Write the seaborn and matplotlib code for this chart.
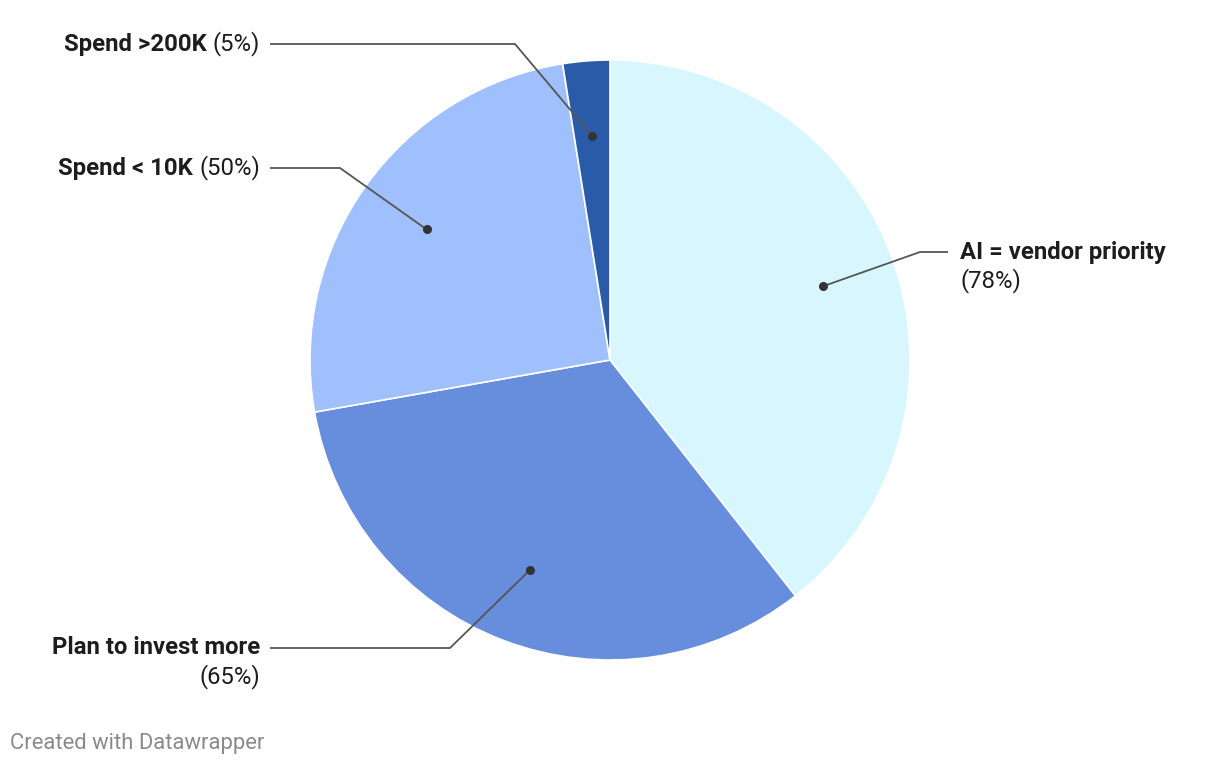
import numpy as np
import matplotlib
matplotlib.use("Agg")
from matplotlib import pyplot as plt
import seaborn as sns

# data (clockwise from 12 o'clock)
labels = ["AI = vendor priority", "Plan to invest more", "Spend < 10K", "Spend >200K"]
values = [78, 65, 50, 5]
colors = ["#d8f6fe", "#678ddd", "#9fc0fd", "#2a5ba8"]

sns.set_theme(style="white")
plt.rcParams["font.family"] = ["Roboto", "DejaVu Sans"]

W, H = 1220, 766
fig = plt.figure(figsize=(W / 100, H / 100), dpi=100)
ax = fig.add_axes([0, 0, 1, 1])

cx, cy, r = 610, H - 360, 300
ax.pie(values, colors=colors, startangle=90, counterclock=False,
       center=(cx, cy), radius=r, frame=True,
       wedgeprops=dict(edgecolor="white", linewidth=1.2))
ax.set_xlim(0, W)
ax.set_ylim(0, H)
ax.set_aspect("equal")
ax.axis("off")

# dots sit at 0.75 r on the mid angle of each slice
total = sum(values)
cum = np.cumsum([0] + values)
mids = (cum[:-1] + cum[1:]) / 2 / total * 2 * np.pi
dots = [(cx + 0.75 * r * np.sin(a), cy + 0.75 * r * np.cos(a)) for a in mids]

# leader line layout (pixel coords from the top)
elbows = [[(920, 252), (948, 252)],
          [(450, 648), (270, 648)],
          [(340, 168), (270, 168)],
          [(515, 44), (270, 44)]]

line_c = "#555555"
txt_c = "#1d1d1d"
fs = 17.2
for (dx, dy), el in zip(dots, elbows):
    xs = [dx] + [p[0] for p in el]
    ys = [dy] + [H - p[1] for p in el]
    ax.plot(xs, ys, color=line_c, lw=1.3, solid_capstyle="butt")
    ax.plot(dx, dy, "o", color="#333333", ms=5.5)

renderer = fig.canvas.get_renderer()

# right-side label (two lines)
ax.text(960, H - 252, labels[0], ha="left", va="center", fontsize=fs,
        fontweight="bold", color=txt_c)
ax.text(960, H - 281, f"({values[0]}%)", ha="left", va="center", fontsize=fs,
        color=txt_c)

# bottom-left label (two lines, right aligned)
ax.text(260, H - 648, labels[1], ha="right", va="center", fontsize=fs,
        fontweight="bold", color=txt_c)
ax.text(260, H - 677, f"({values[1]}%)", ha="right", va="center", fontsize=fs,
        color=txt_c)

# single line labels: bold name + normal percentage
for lab, val, y in [(labels[2], values[2], 168), (labels[3], values[3], 44)]:
    t = ax.text(260, H - y, f"({val}%)", ha="right", va="center", fontsize=fs,
                color=txt_c)
    bb = t.get_window_extent(renderer=renderer)
    ax.text(bb.x0 - 6, H - y, lab, ha="right", va="center", fontsize=fs,
            fontweight="bold", color=txt_c)

fig.text(10 / W, 1 - 743 / H, "Created with Datawrapper", ha="left", va="center",
         fontsize=15.8, color="#8a8a8a")

plt.savefig("out.png", dpi=100, facecolor="white")
